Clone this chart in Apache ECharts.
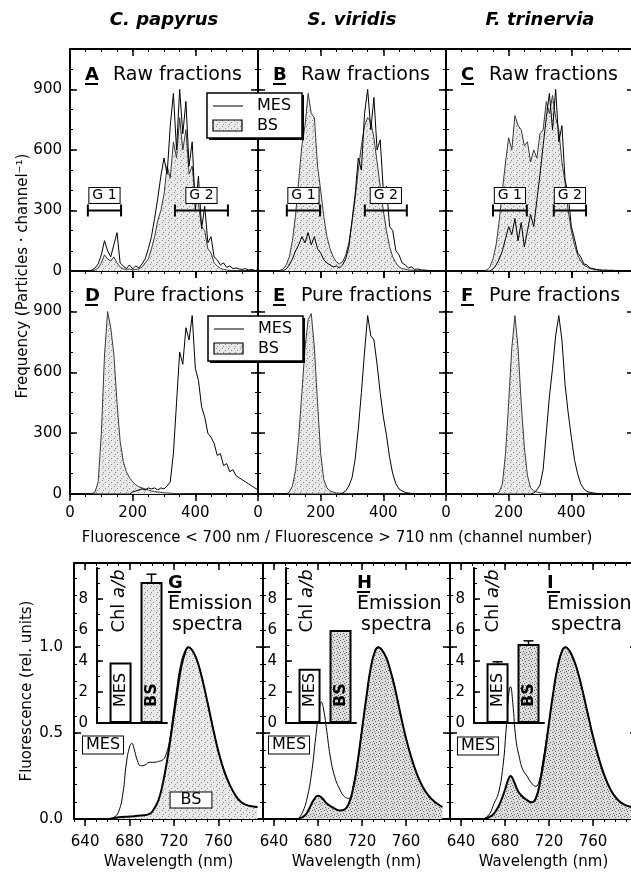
<!DOCTYPE html>
<html>
<head>
<meta charset="utf-8">
<script src="https://cdn.jsdelivr.net/npm/echarts@6/dist/echarts.min.js"></script>
<style>
html, body { margin: 0; padding: 0; background: #fff; }
#chart { width: 631px; height: 872px; }
</style>
</head>
<body>
<div id="chart"></div>
<script>
'use strict'

const FONT = '"DejaVu Sans"'

// ---- data ----
const species = ['C. papyrus', 'S. viridis', 'F. trinervia']
const panelLetters = [['A', 'B', 'C'], ['D', 'E', 'F']]
const rowTitles = ['Raw fractions', 'Pure fractions']

// histogram channels (x of the flow cytometry panels)
const channels = [0, 10, 20, 30, 40, 50, 60, 70, 80, 90,
    100, 110, 120, 130, 140, 150, 160, 170, 180, 190,
    200, 210, 220, 230, 240, 250, 260, 270, 280, 290,
    300, 310, 320, 330, 340, 350, 360, 370, 380, 390,
    400, 410, 420, 430, 440, 450, 460, 470, 480, 490,
    500, 510, 520, 530, 540, 550, 560, 570, 580, 590, 600]

// raw fractions
const rawMesPapyrus = [0, 0, 0, 0, 0, 0, 0, 4, 15, 35,
    80, 150, 100, 70, 130, 190, 40, 25, 12, 30,
    10, 25, 15, 35, 60, 110, 170, 260, 360, 470,
    560, 480, 720, 880, 600, 900, 680, 840, 520, 640,
    300, 470, 210, 320, 140, 170, 70, 55, 30, 40,
    18, 25, 12, 15, 10, 8, 12, 5, 8, 3, 5]
const rawBsPapyrus = [0, 0, 0, 0, 0, 0, 0, 0, 5, 15,
    40, 80, 60, 50, 70, 40, 20, 10, 8, 10,
    5, 8, 10, 20, 40, 60, 110, 170, 250, 300,
    380, 520, 460, 640, 560, 760, 600, 700, 480, 520,
    360, 330, 220, 200, 110, 90, 40, 25, 12, 8,
    5, 3, 2, 2, 1, 1, 0, 0, 0, 0, 0]
const rawMesViridis = [0, 0, 0, 0, 0, 0, 0, 0, 0, 10,
    30, 60, 100, 130, 170, 140, 190, 130, 170, 110,
    90, 55, 40, 30, 20, 25, 15, 30, 60, 120,
    250, 380, 560, 500, 780, 900, 700, 860, 600, 650,
    400, 420, 220, 200, 100, 80, 40, 30, 15, 20,
    8, 10, 5, 5, 3, 2, 0, 0, 0, 0, 0]
const rawBsViridis = [0, 0, 0, 0, 0, 0, 0, 3, 10, 30,
    70, 150, 280, 450, 620, 720, 880, 780, 760, 520,
    400, 270, 170, 110, 70, 45, 35, 45, 80, 140,
    240, 360, 500, 620, 720, 760, 740, 660, 540, 420,
    300, 200, 120, 70, 40, 20, 12, 8, 5, 4,
    3, 2, 2, 1, 1, 0, 0, 0, 0, 0, 0]
const rawMesTrinervia = [0, 0, 0, 0, 0, 0, 0, 0, 0, 0,
    0, 0, 0, 0, 0, 10, 30, 60, 100, 160,
    220, 180, 260, 150, 240, 120, 200, 280, 220, 350,
    480, 620, 760, 880, 700, 900, 640, 720, 450, 380,
    220, 160, 90, 70, 35, 30, 15, 12, 8, 6,
    4, 5, 3, 4, 2, 3, 2, 2, 1, 2, 1]
const rawBsTrinervia = [0, 0, 0, 0, 0, 0, 0, 0, 0, 0,
    0, 0, 0, 5, 20, 60, 130, 250, 400, 540,
    660, 600, 770, 720, 700, 620, 640, 540, 600, 560,
    680, 700, 840, 780, 870, 760, 700, 540, 440, 300,
    200, 130, 80, 50, 30, 20, 12, 8, 5, 4,
    3, 2, 3, 2, 1, 2, 1, 1, 0, 1, 0]

// pure fractions
const pureMesPapyrus = [0, 0, 0, 0, 0, 0, 0, 0, 0, 0,
    0, 0, 0, 0, 0, 0, 0, 0, 0, 0,
    10, 15, 20, 25, 20, 30, 25, 30, 20, 30,
    25, 40, 60, 200, 450, 700, 640, 820, 760, 880,
    620, 560, 430, 380, 300, 280, 250, 190, 200, 140,
    150, 110, 120, 90, 80, 70, 60, 50, 40, 30, 20]
const pureBsPapyrus = [0, 0, 0, 0, 0, 0, 0, 0, 10, 60,
    300, 680, 900, 820, 690, 450, 260, 160, 110, 80,
    60, 45, 35, 30, 25, 20, 15, 12, 10, 8,
    6, 5, 4, 3, 2, 2, 1, 0, 0, 0,
    0, 0, 0, 0, 0, 0, 0, 0, 0, 0,
    0, 0, 0, 0, 0, 0, 0, 0, 0, 0, 0]
const pureMesViridis = [0, 0, 0, 0, 0, 0, 0, 0, 0, 0,
    0, 0, 0, 0, 0, 0, 0, 0, 0, 0,
    0, 0, 0, 0, 0, 0, 0, 5, 15, 40,
    80, 170, 320, 500, 700, 880, 780, 760, 640, 500,
    380, 290, 180, 100, 50, 25, 15, 8, 5, 3,
    2, 1, 0, 0, 0, 0, 0, 0, 0, 0, 0]
const pureBsViridis = [0, 0, 0, 0, 0, 0, 0, 0, 0, 0,
    10, 40, 120, 280, 500, 720, 860, 890, 720, 450,
    200, 70, 30, 15, 10, 5, 4, 3, 2, 2,
    1, 0, 0, 0, 0, 0, 0, 0, 0, 0,
    0, 0, 0, 0, 0, 0, 0, 0, 0, 0,
    0, 0, 0, 0, 0, 0, 0, 0, 0, 0, 0]
const pureMesTrinervia = [0, 0, 0, 0, 0, 0, 0, 0, 0, 0,
    0, 0, 0, 0, 0, 0, 0, 0, 0, 0,
    0, 0, 0, 0, 0, 0, 0, 0, 5, 20,
    45, 120, 300, 480, 620, 780, 880, 760, 540, 400,
    280, 170, 100, 50, 25, 12, 8, 5, 3, 0,
    0, 0, 0, 0, 0, 0, 0, 0, 0, 0, 0]
const pureBsTrinervia = [0, 0, 0, 0, 0, 0, 0, 0, 0, 0,
    0, 0, 0, 0, 0, 0, 0, 10, 50, 200,
    450, 720, 880, 720, 450, 230, 90, 30, 15, 10,
    6, 4, 3, 2, 1, 0, 0, 0, 0, 0,
    0, 0, 0, 0, 0, 0, 0, 0, 0, 0,
    0, 0, 0, 0, 0, 0, 0, 0, 0, 0, 0]

// gates (channel from, channel to) drawn at gateLevel
const gatesPapyrus = [[57, 163], [335, 504]]
const gatesViridis = [[92, 198], [341, 475]]
const gatesTrinervia = [[150, 258], [344, 447]]
const gateNames = ['G 1', 'G 2']
const gateLevel = 300

// emission spectra (wavelength nm, relative fluorescence)
const gMesWl = [662, 666, 670, 674, 677, 680, 682, 684, 687, 690, 694, 698, 702, 706, 710, 713, 716, 719, 722, 726,
    730, 733, 736, 740, 744, 748, 752, 756, 760, 765, 770, 775, 780, 785, 790, 795]
const gMesVal = [0, 0.01, 0.04, 0.15, 0.32, 0.42, 0.44, 0.41, 0.34, 0.31, 0.315, 0.33, 0.33, 0.335, 0.345, 0.38, 0.46, 0.6, 0.74, 0.9,
    0.98, 1.0, 0.985, 0.935, 0.85, 0.74, 0.62, 0.5, 0.39, 0.28, 0.2, 0.14, 0.1, 0.082, 0.074, 0.07]
const gBsWl = [662, 670, 680, 690, 698, 702, 706, 710, 714, 718, 722, 726, 730, 733, 736, 740, 744, 748, 752, 756,
    760, 765, 770, 775, 780, 785, 790, 795]
const gBsVal = [0, 0.01, 0.015, 0.02, 0.03, 0.06, 0.11, 0.21, 0.35, 0.52, 0.7, 0.87, 0.97, 1.0, 0.985, 0.935, 0.85, 0.74, 0.62, 0.5,
    0.39, 0.28, 0.2, 0.14, 0.1, 0.082, 0.074, 0.07]

const hMesWl = [662, 666, 670, 674, 678, 681, 683, 685, 688, 691, 695, 700, 704, 708, 712, 716, 720, 724, 728, 732,
    735, 738, 742, 746, 750, 755, 760, 765, 770, 775, 780, 786, 793]
const hMesVal = [0, 0.04, 0.12, 0.26, 0.48, 0.63, 0.68, 0.64, 0.51, 0.37, 0.25, 0.17, 0.13, 0.12, 0.19, 0.34, 0.52, 0.71, 0.88, 0.98,
    1.0, 0.985, 0.94, 0.86, 0.76, 0.61, 0.47, 0.355, 0.26, 0.19, 0.14, 0.1, 0.07]
const hBsWl = [662, 668, 672, 676, 680, 684, 688, 694, 700, 704, 708, 712, 716, 720, 724, 728, 732, 735, 738, 742,
    746, 750, 755, 760, 765, 770, 775, 780, 786, 793]
const hBsVal = [0, 0.02, 0.06, 0.11, 0.135, 0.12, 0.09, 0.065, 0.05, 0.055, 0.09, 0.18, 0.33, 0.52, 0.71, 0.88, 0.98, 1.0, 0.985, 0.94,
    0.86, 0.76, 0.61, 0.47, 0.355, 0.26, 0.19, 0.14, 0.1, 0.07]

const iMesWl = [661, 666, 670, 674, 678, 681, 683, 685, 687, 690, 693, 696, 700, 704, 708, 711, 714, 718, 720, 724,
    728, 732, 735, 738, 742, 746, 750, 755, 760, 765, 770, 776, 782, 788, 795]
const iMesVal = [0, 0.03, 0.09, 0.15, 0.3, 0.52, 0.7, 0.77, 0.68, 0.46, 0.36, 0.29, 0.25, 0.21, 0.19, 0.22, 0.32, 0.48, 0.56, 0.74,
    0.89, 0.98, 1.0, 0.985, 0.935, 0.86, 0.76, 0.62, 0.48, 0.36, 0.26, 0.17, 0.115, 0.085, 0.07]
const iBsWl = [661, 668, 672, 676, 680, 683, 685, 688, 692, 696, 700, 704, 708, 712, 716, 720, 724, 728, 732, 735,
    738, 742, 746, 750, 755, 760, 765, 770, 776, 782, 788, 795]
const iBsVal = [0, 0.02, 0.05, 0.1, 0.17, 0.23, 0.25, 0.22, 0.16, 0.13, 0.11, 0.097, 0.12, 0.22, 0.37, 0.56, 0.74, 0.89, 0.98, 1.0,
    0.985, 0.935, 0.86, 0.76, 0.62, 0.48, 0.36, 0.26, 0.17, 0.115, 0.085, 0.07]

// Chl a/b inset bars
const chlNames = ['MES', 'BS']
const chlPapyrus = [3.9, 9.1]
const chlViridis = [3.5, 6.0]
const chlTrinervia = [3.85, 5.1]
const chlErrPapyrus = [0, 0.5]
const chlErrViridis = [0, 0]
const chlErrTrinervia = [0.1, 0.2]

// ---- layout ----
const colX = [70, 258, 446]
const colW = 188
const rowY = [49, 271]
const rowH = [222, 223]
const specX = [74, 263, 450]
const specW = [189, 187, 187]
const specTop = 563
const specH = 256
const insetX = [97, 286, 474]
const insetTop = 568
const insetH = 155
const insetW = 70

function stipple(bg, dot, pts) {
    var c = document.createElement('canvas')
    c.width = 6
    c.height = 6
    var g = c.getContext('2d')
    g.fillStyle = bg
    g.fillRect(0, 0, 6, 6)
    g.fillStyle = dot
    pts.forEach(function (p) { g.fillRect(p[0], p[1], 1, 1) })
    return {image: c, repeat: 'repeat'}
}
const patLight = stipple('#e9e9e9', '#8a8a8a', [[0, 0], [3, 2], [1, 4]])
const patDark = stipple('#dcdcdc', '#6a6a6a', [[0, 0], [3, 1], [1, 3], [4, 4], [2, 5]])

const ranges = {
    chan: {min: 0, max: 600, minor: 50, major: [0, 200, 400]},
    freq: {min: 0, max: 1100, minor: 100, major: [0, 300, 600, 900]},
    wave: {min: 630, max: 800, minor: 10, major: [640, 680, 720, 760]},
    fluo: {min: 0, max: 1.49, minor: 0.1, major: [0, 0.5, 1.0], fmt: function (v) { return v.toFixed(1) }},
    chl: {min: 0, max: 10, minor: 1, major: [0, 2, 4, 6, 8]}
}

const grids = []
const xAxes = []
const yAxes = []
const series = []
const graphics = []

// one axis for the line + small ticks, one for long ticks + labels
function addAxes(list, gi, pos, r, labels, inside, margin, majorLen) {
    var common = {type: 'value', gridIndex: gi, position: pos, min: r.min, max: r.max, splitLine: {show: false}}
    list.push(Object.assign({}, common, {
        interval: r.minor,
        axisLine: {show: true, onZero: false, lineStyle: {color: '#000', width: 2}},
        axisTick: {show: true, inside: inside, length: 3, lineStyle: {color: '#000', width: 1}},
        axisLabel: {show: false}
    }))
    var first = list.length - 1
    var lab = {show: labels, customValues: r.major, margin: margin, fontFamily: 'DejaVu Sans', fontSize: 15, color: '#000'}
    if (r.fmt) lab.formatter = r.fmt
    list.push(Object.assign({}, common, {
        axisLine: {show: false, onZero: false},
        axisTick: {show: true, inside: inside, length: majorLen || 7, customValues: r.major, lineStyle: {color: '#000', width: 1.5}},
        axisLabel: lab
    }))
    return first
}

function framedGrid(box, xr, yr, xLabels, yLabels, xMargin, yMargin) {
    grids.push({left: box[0], top: box[1], width: box[2], height: box[3], containLabel: false, outerBoundsMode: 'none'})
    var gi = grids.length - 1
    var xi = addAxes(xAxes, gi, 'bottom', xr, xLabels, false, xMargin)
    addAxes(xAxes, gi, 'top', xr, false, true, 0)
    var yi = addAxes(yAxes, gi, 'left', yr, yLabels, true, yMargin)
    addAxes(yAxes, gi, 'right', yr, false, true, 0)
    return [xi, yi]
}

function zip(xs, ys) {
    return xs.map(function (x, k) { return [x, ys[k]] })
}

// ---- histograms ----
const histMes = [[rawMesPapyrus, rawMesViridis, rawMesTrinervia], [pureMesPapyrus, pureMesViridis, pureMesTrinervia]]
const histBs = [[rawBsPapyrus, rawBsViridis, rawBsTrinervia], [pureBsPapyrus, pureBsViridis, pureBsTrinervia]]
const gates = [gatesPapyrus, gatesViridis, gatesTrinervia]

function renderGate(params, api) {
    var a = api.coord([api.value(0), api.value(2)])
    var b = api.coord([api.value(1), api.value(2)])
    var y = a[1]
    var blk = {stroke: '#000', lineWidth: 2}
    return {
        type: 'group',
        children: [
            {type: 'line', shape: {x1: a[0], y1: y, x2: b[0], y2: y}, style: blk},
            {type: 'line', shape: {x1: a[0], y1: y - 6, x2: a[0], y2: y + 6}, style: blk},
            {type: 'line', shape: {x1: b[0], y1: y - 6, x2: b[0], y2: y + 6}, style: blk},
            {
                type: 'text', x: (a[0] + b[0]) / 2, y: y - 15,
                style: {
                    text: gateNames[params.dataIndex], font: '14px ' + FONT, fill: '#000',
                    align: 'center', verticalAlign: 'middle',
                    backgroundColor: '#fff', borderColor: '#000', borderWidth: 1, padding: [1, 3, 0, 3]
                }
            }
        ]
    }
}

for (var r = 0; r < 2; r++) {
    for (var c = 0; c < 3; c++) {
        var ax = framedGrid([colX[c], rowY[r], colW, rowH[r]], ranges.chan, ranges.freq, r == 1, c == 0, 12, 8)
        series.push({
            name: 'BS', type: 'line', xAxisIndex: ax[0], yAxisIndex: ax[1],
            data: zip(channels, histBs[r][c]), symbol: 'none', z: 2,
            lineStyle: {color: '#3a3a3a', width: 1},
            areaStyle: {color: patLight, opacity: 1}
        })
        series.push({
            name: 'MES', type: 'line', xAxisIndex: ax[0], yAxisIndex: ax[1],
            data: zip(channels, histMes[r][c]), symbol: 'none', z: 3,
            lineStyle: {color: '#000', width: 1}
        })
        if (r == 0) {
            series.push({
                type: 'custom', xAxisIndex: ax[0], yAxisIndex: ax[1], z: 5, clip: false,
                data: gates[c].map(function (g) { return [g[0], g[1], gateLevel] }),
                renderItem: renderGate
            })
        }
    }
}

// ---- emission spectra ----
const specMes = [[gMesWl, gMesVal], [hMesWl, hMesVal], [iMesWl, iMesVal]]
const specBs = [[gBsWl, gBsVal], [hBsWl, hBsVal], [iBsWl, iBsVal]]
const specPat = [patLight, patDark, patDark]

for (var j = 0; j < 3; j++) {
    var sa = framedGrid([specX[j], specTop, specW[j], specH], ranges.wave, ranges.fluo, true, j == 0, 16, 11)
    series.push({
        name: 'BS', type: 'line', xAxisIndex: sa[0], yAxisIndex: sa[1],
        data: zip(specBs[j][0], specBs[j][1]), symbol: 'none', smooth: 0.5, z: 2,
        lineStyle: {color: '#000', width: 2},
        areaStyle: {color: specPat[j], opacity: 1}
    })
    series.push({
        name: 'MES', type: 'line', xAxisIndex: sa[0], yAxisIndex: sa[1],
        data: zip(specMes[j][0], specMes[j][1]), symbol: 'none', smooth: 0.5, z: 3,
        lineStyle: {color: '#000', width: 1}
    })
}

// ---- Chl a/b insets ----
const chlVals = [chlPapyrus, chlViridis, chlTrinervia]
const chlErrs = [chlErrPapyrus, chlErrViridis, chlErrTrinervia]

function renderErr(params, api) {
    var lo = api.coord([api.value(0), api.value(1)])
    var hi = api.coord([api.value(0), api.value(2)])
    var blk = {stroke: '#000', lineWidth: 1.5}
    return {
        type: 'group',
        children: [
            {type: 'line', shape: {x1: lo[0], y1: lo[1], x2: hi[0], y2: hi[1]}, style: blk},
            {type: 'line', shape: {x1: hi[0] - 5, y1: hi[1], x2: hi[0] + 5, y2: hi[1]}, style: blk}
        ]
    }
}

for (var k = 0; k < 3; k++) {
    grids.push({left: insetX[k], top: insetTop, width: insetW, height: insetH, containLabel: false, outerBoundsMode: 'none'})
    var gi = grids.length - 1
    xAxes.push({
        type: 'value', gridIndex: gi, position: 'bottom', min: -0.76, max: 1.5,
        axisLine: {show: true, onZero: false, lineStyle: {color: '#000', width: 2}},
        axisTick: {show: false}, axisLabel: {show: false}, splitLine: {show: false}
    })
    var ix = xAxes.length - 1
    var iy = addAxes(yAxes, gi, 'left', ranges.chl, true, true, 9, 6)
    series.push({
        type: 'bar', xAxisIndex: ix, yAxisIndex: iy, barWidth: 22, z: 4,
        data: chlVals[k].map(function (v, n) {
            return {
                value: [n, v],
                itemStyle: {color: n ? specPat[k] : '#fff'},
                label: {fontWeight: n ? 'bold' : 'normal'}
            }
        }),
        itemStyle: {borderColor: '#000', borderWidth: 2},
        label: {
            show: true, position: 'insideBottom', rotate: 90, align: 'left', verticalAlign: 'middle',
            distance: 16, fontFamily: 'DejaVu Sans', fontSize: 16, color: '#000',
            formatter: function (p) { return chlNames[p.dataIndex] }
        }
    })
    series.push({
        type: 'custom', xAxisIndex: ix, yAxisIndex: iy, z: 5, clip: false,
        data: chlVals[k].map(function (v, n) { return [n, v, v + chlErrs[k][n]] }).filter(function (d) { return d[2] > d[1] }),
        renderItem: renderErr
    })
}

// ---- text and decorations ----
function text(x, y, s, font, align) {
    graphics.push({
        type: 'text', x: x, y: y, z: 100,
        style: {text: s, font: font, fill: '#000', align: align || 'left', verticalAlign: 'middle'}
    })
}
function underline(x, y, w) {
    graphics.push({type: 'line', z: 100, shape: {x1: x, y1: y, x2: x + w, y2: y}, style: {stroke: '#000', lineWidth: 2}})
}

species.forEach(function (s, c) {
    text(colX[c] + colW / 2, 20, s, 'italic bold 18px ' + FONT, 'center')
})

var labelY = [75, 296]
for (var r2 = 0; r2 < 2; r2++) {
    for (var c2 = 0; c2 < 3; c2++) {
        text(colX[c2] + 15, labelY[r2], panelLetters[r2][c2], 'bold 18px ' + FONT)
        underline(colX[c2] + 15, labelY[r2] + 9, 13)
        text(colX[c2] + 43, labelY[r2], rowTitles[r2], '19px ' + FONT)
    }
}

function legendBox(x, y) {
    graphics.push({type: 'rect', z: 90, shape: {x: x + 2, y: y + 2, width: 95, height: 45}, style: {fill: '#000'}})
    graphics.push({type: 'rect', z: 91, shape: {x: x, y: y, width: 95, height: 45}, style: {fill: '#fff', stroke: '#000', lineWidth: 1.5}})
    graphics.push({type: 'line', z: 92, shape: {x1: x + 6, y1: y + 13, x2: x + 36, y2: y + 13}, style: {stroke: '#000', lineWidth: 1}})
    graphics.push({type: 'rect', z: 92, shape: {x: x + 6, y: y + 27, width: 29, height: 11}, style: {fill: patLight, stroke: '#000', lineWidth: 1.2}})
    text(x + 50, y + 13, 'MES', '16px ' + FONT)
    text(x + 50, y + 33, 'BS', '16px ' + FONT)
}
legendBox(207, 93)
legendBox(208, 316)

function boxed(x, y, s, pad) {
    graphics.push({
        type: 'text', x: x, y: y, z: 100,
        style: {
            text: s, font: '16px ' + FONT, fill: '#000', align: 'center', verticalAlign: 'middle',
            backgroundColor: '#fff', borderColor: '#000', borderWidth: 1, padding: pad
        }
    })
}
boxed(103, 745, 'MES', [1, 3, 0, 3])
boxed(289, 745, 'MES', [1, 3, 0, 3])
boxed(478, 746, 'MES', [1, 3, 0, 3])
boxed(191, 800, 'BS', [0, 10, -1, 10])

var emLetters = ['G', 'H', 'I']
var emX = [168, 357, 547]
var chlX = [119, 307, 493]
for (var e = 0; e < 3; e++) {
    text(emX[e], 583, emLetters[e], 'bold 18px ' + FONT)
    underline(emX[e], 592, 13)
    text(emX[e], 604, 'Emission', '19px ' + FONT)
    text(emX[e] + 4, 625, 'spectra', '19px ' + FONT)
    graphics.push({
        type: 'text', x: chlX[e], y: 601, z: 100, rotation: Math.PI / 2,
        style: {
            text: 'Chl {i|a/b}', font: '18px ' + FONT, fill: '#000', align: 'center', verticalAlign: 'middle',
            rich: {i: {fontStyle: 'italic', fontSize: 18, fontFamily: 'DejaVu Sans'}}
        }
    })
    text(specX[e] + specW[e] / 2, 862, 'Wavelength (nm)', '15px ' + FONT, 'center')
}

graphics.push({
    type: 'text', x: 23, y: 276, z: 100, rotation: Math.PI / 2,
    style: {text: 'Frequency (Particles \u00b7 channel\u207b\u00b9)', font: '15px ' + FONT, fill: '#000', align: 'center', verticalAlign: 'middle'}
})
text(337, 538, 'Fluorescence < 700 nm / Fluorescence > 710 nm (channel number)', '15px ' + FONT, 'center')
graphics.push({
    type: 'text', x: 27, y: 691, z: 100, rotation: Math.PI / 2,
    style: {text: 'Fluorescence (rel. units)', font: '15px ' + FONT, fill: '#000', align: 'center', verticalAlign: 'middle'}
})

var chart = echarts.init(document.getElementById('chart'), null, {renderer: 'canvas', width: 631, height: 872})
chart.setOption({
    animation: false,
    backgroundColor: '#fff',
    grid: grids,
    xAxis: xAxes,
    yAxis: yAxes,
    series: series,
    graphic: {elements: graphics}
})
</script>
</body>
</html>
